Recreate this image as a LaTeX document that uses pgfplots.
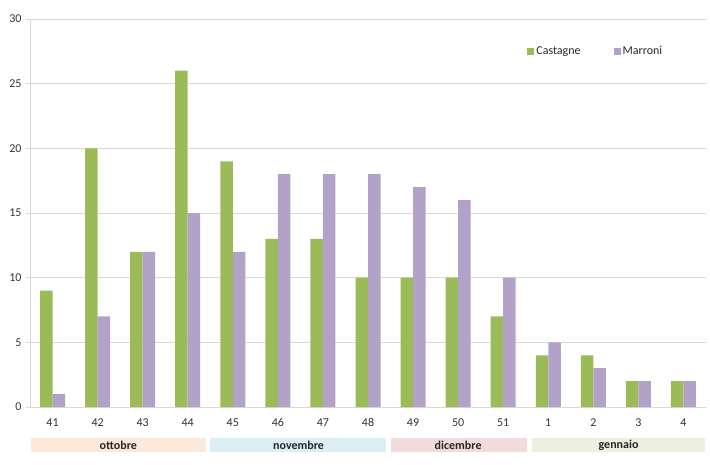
\documentclass[border=0pt]{standalone}
\usepackage{pgfplots}
\pgfplotsset{compat=1.18}
\usepackage{fontspec}
\setmainfont{Carlito}
\definecolor{cgreen}{HTML}{9BBB59}
\definecolor{cpurple}{HTML}{B3A2C7}
\definecolor{gridc}{HTML}{D9D9D9}
\definecolor{bott}{HTML}{FDE9D9}
\definecolor{bnov}{HTML}{DAEEF3}
\definecolor{bdic}{HTML}{F2DCDB}
\definecolor{bgen}{HTML}{EBF1DE}
\pgfplotstableread{
x c m
0 9 1
1 20 7
2 12 12
3 26 15
4 19 12
5 13 18
6 13 18
7 10 18
8 10 17
9 10 16
10 7 10
11 4 5
12 4 3
13 2 2
14 2 2
}\data
\begin{document}
\begin{tikzpicture}
\useasboundingbox (0pt,0pt) rectangle (710pt,464pt);
\begin{axis}[
  at={(30pt,57pt)}, anchor=south west,
  scale only axis, width=676pt, height=388pt,
  xmin=-0.5, xmax=14.5, ymin=0, ymax=30,
  ytick={0,5,...,30},
  xtick=data,
  xticklabels={41,42,43,44,45,46,47,48,49,50,51,1,2,3,4},
  extra x ticks={-0.5,0.5,...,14.5},
  extra x tick labels={},
  extra x tick style={major tick length=4pt, tick style={gridc, thick}},
  major x tick style={draw=none},
  ytick style={gridc, thick},
  major tick length=4pt,
  tick align=outside,
  ymajorgrids, grid style={gridc, thick},
  axis x line*=bottom, axis y line*=left,
  x axis line style={gridc, thick, -},
  y axis line style={gridc, thick, -},
  ybar=0pt, bar width=12.5pt,
  /pgf/number format/assume math mode=true,
  tick label style={font=\fontsize{12}{14}\selectfont, text=black!80},
  xticklabel style={yshift=-4pt},
  yticklabel style={xshift=-1pt},
  clip=false,
  legend style={draw=none, fill=none, at={(0.731,0.94)}, anchor=north west,
    font=\fontsize{12}{14}\selectfont, text=black!85, legend columns=2,
    /tikz/every even column/.append style={column sep=31pt}},
  legend image code/.code={\fill[#1] (0pt,-3.5pt) rectangle (7pt,3.5pt);},
]
\addplot[fill=cgreen, draw=none] table[x=x,y=c]{\data};
\addplot[fill=cpurple, draw=none] table[x=x,y=m]{\data};
\legend{Castagne, Marroni}
\fill[bott] (axis cs:-0.48,-2.397) rectangle (axis cs:3.41,-3.479);
\fill[bnov] (axis cs:3.5,-2.397) rectangle (axis cs:7.41,-3.479);
\fill[bdic] (axis cs:7.5,-2.397) rectangle (axis cs:10.52,-3.479);
\fill[bgen] (axis cs:10.65,-2.397) rectangle (axis cs:14.48,-3.479);
\node[font=\fontsize{12}{14}\selectfont\bfseries, text=black!85] at (axis cs:1.46,-2.938) {ottobre};
\node[font=\fontsize{12}{14}\selectfont\bfseries, text=black!85] at (axis cs:5.46,-2.938) {novembre};
\node[font=\fontsize{12}{14}\selectfont\bfseries, text=black!85] at (axis cs:9.0,-2.938) {dicembre};
\node[font=\fontsize{12}{14}\selectfont\bfseries, text=black!85] at (axis cs:12.56,-2.938) {gennaio};
\end{axis}
\end{tikzpicture}
\end{document}
